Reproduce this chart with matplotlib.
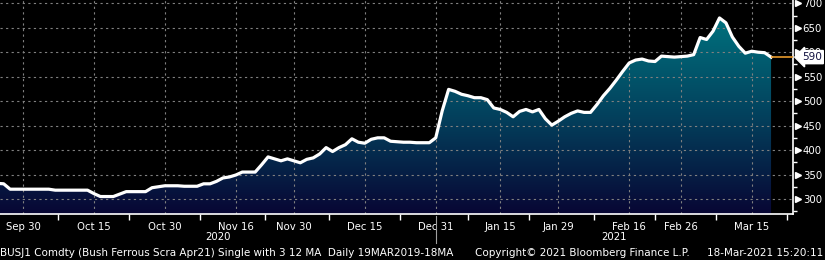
import numpy as np
import pandas as pd
import matplotlib
matplotlib.use('Agg')
import matplotlib.pyplot as plt
from matplotlib.colors import LinearSegmentedColormap

# trading days shown (US market holidays removed)
holidays = ['2020-11-26', '2020-12-25', '2021-01-01', '2021-01-18', '2021-02-15']
dates = pd.bdate_range('2020-09-24', '2021-03-18')
dates = dates[~dates.isin(pd.to_datetime(holidays))]

prices = [332, 331, 320, 320, 320, 320, 320, 320, 320, 318,
          318, 318, 318, 318, 318, 311, 305, 305, 305, 310,
          315, 315, 315, 315, 323, 325, 327, 327, 327, 326,
          326, 326, 331, 331, 336, 343, 345, 349, 355, 355,
          355, 370, 386, 382, 378, 382, 378, 374, 381, 384,
          392, 405, 397, 405, 411, 423, 416, 414, 422, 425,
          425, 418, 417, 416, 416, 415, 415, 415, 425, 480,
          524, 520, 514, 511, 507, 507, 503, 486, 483, 477,
          468, 479, 483, 478, 483, 464, 451, 459, 468, 475,
          480, 477, 477, 493, 511, 526, 543, 561, 578, 584,
          586, 582, 581, 592, 591, 590, 591, 592, 595, 630,
          626, 643, 670, 660, 631, 612, 598, 602, 600, 599,
          590]

tick_dates = ['2020-09-30', '2020-10-15', '2020-10-30', '2020-11-16', '2020-11-30',
              '2020-12-15', '2020-12-31', '2021-01-15', '2021-01-29', '2021-02-16',
              '2021-02-26', '2021-03-15']
tick_labels = ['Sep 30', 'Oct 15', 'Oct 30', 'Nov 16', 'Nov 30', 'Dec 15',
               'Dec 31', 'Jan 15', 'Jan 29', 'Feb 16', 'Feb 26', 'Mar 15']
y_ticks = [300, 350, 400, 450, 500, 550, 600, 650, 700]

x = np.arange(len(dates)) - 4
y = np.array(prices, dtype=float)
xt = [x[dates.get_loc(pd.Timestamp(d))] for d in tick_dates]

xmin, xmax = -3.57, 119.4
ymin, ymax = 269.3, 706.7

fig = plt.figure(figsize=(8.25, 2.6), dpi=100, facecolor='black')
ax = fig.add_axes([0, 46 / 260, 793 / 825, 214 / 260])
ax.set_facecolor('black')

# gradient area under the line
cmap = LinearSegmentedColormap.from_list('bb', [(0, '#080634'), (0.48, '#03405c'), (1, '#00737f')])
poly = ax.fill_between(x, y, ymin, facecolor='none', edgecolor='none')
grad = np.linspace(0, 1, 256).reshape(-1, 1)
img = ax.imshow(grad, extent=[xmin, xmax, ymin, 680], origin='lower', aspect='auto',
                cmap=cmap, zorder=1)
img.set_clip_path(poly.get_paths()[0], transform=ax.transData)

ax.plot(x, y, color='white', lw=2.3, zorder=4, solid_joinstyle='round')
ax.hlines(y[-1], x[-1], xmax, color='#e89a2c', lw=1.2, zorder=4)

# grid
ax.set_xticks(xt)
ax.set_xticklabels(tick_labels)
ax.set_yticks(y_ticks)
ax.grid(True, color='#808080', linestyle=(0, (2, 3)), lw=0.8)

mid = [(a + b) / 2 for a, b in zip(xt[:-1], xt[1:])]
mid = mid + [xt[-1] + (xt[-1] - xt[-2]) / 2]
ax.set_xticks(mid, minor=True)
ax.set_yticks(np.arange(275, 701, 25), minor=True)

ax.set_xlim(xmin, xmax)
ax.set_ylim(ymin, ymax)

ax.yaxis.tick_right()
ax.tick_params(axis='x', which='major', length=0, pad=6, colors='white', labelsize=7.3)
ax.tick_params(axis='x', which='minor', length=4, width=1, color='white')
ax.tick_params(axis='y', which='major', length=0, pad=7, colors='white', labelsize=7.3)
ax.tick_params(axis='y', which='minor', length=3, width=1, color='white')

for s in ['top', 'left']:
    ax.spines[s].set_visible(False)
for s in ['bottom', 'right']:
    ax.spines[s].set_color('white')
    ax.spines[s].set_linewidth(1.2)

# arrow marks at the price ticks
ytr = ax.get_yaxis_transform()
ax.plot([1.006] * len(y_ticks), y_ticks, marker='>', ls='none', color='white',
        ms=4, transform=ytr, clip_on=False)

# last price box
ax.text(1.011, y[-1], f'{y[-1]:.0f}', transform=ytr, ha='left', va='center',
        fontsize=7.6, color='#101040', zorder=6, clip_on=False,
        bbox=dict(boxstyle='larrow,pad=0.15', fc='white', ec='white'))

# year labels and separator
xtr = ax.get_xaxis_transform()
sep = xt[tick_labels.index('Dec 31')]
ax.text((xmin + sep) / 2, -0.085, '2020', transform=xtr, ha='center', va='top',
        color='white', fontsize=7.3)
ax.text((sep + xmax) / 2, -0.085, '2021', transform=xtr, ha='center', va='top',
        color='white', fontsize=7.3)
ax.plot([sep, sep], [-0.01, -0.135], color='#a0a0a0', lw=0.8, transform=xtr, clip_on=False)

fig.text(0.0, 7 / 260, 'BUSJ1 Comdty (Bush Ferrous Scra Apr21) Single with 3 12 MA  Daily 19MAR2019-18MA',
         color='white', fontsize=7.5, va='center', ha='left')
fig.text(475 / 825, 7 / 260, 'Copyright\u00a9 2021 Bloomberg Finance L.P.',
         color='white', fontsize=7.5, va='center', ha='left')
fig.text(823 / 825, 7 / 260, '18-Mar-2021 15:20:11',
         color='white', fontsize=7.5, va='center', ha='right')

fig.savefig('out.png', dpi=100, facecolor='black')
